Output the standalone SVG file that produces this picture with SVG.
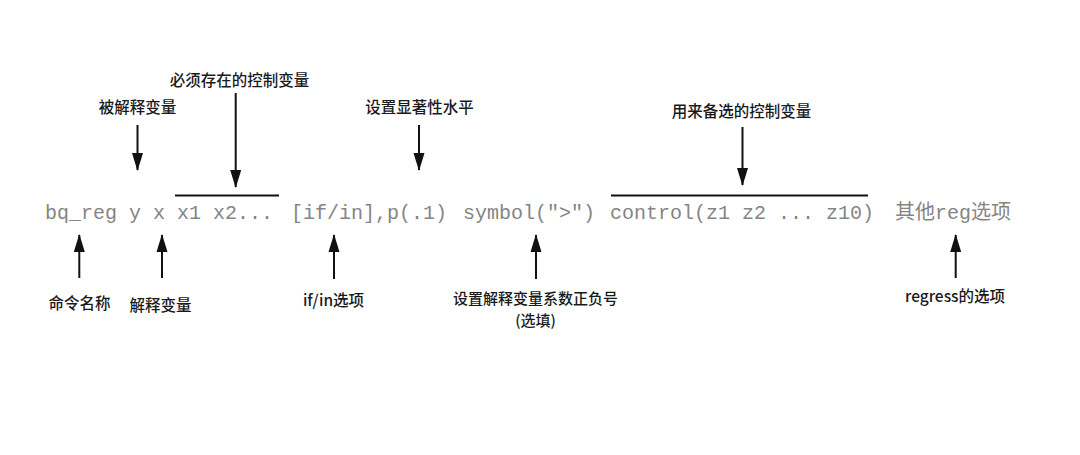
<svg xmlns="http://www.w3.org/2000/svg" width="1080" height="455" viewBox="0 0 1080 455">
  <style>
    .code { font-family: "Liberation Mono", "Noto Sans CJK SC", monospace; font-size: 20px; fill: #858585; }
    .lbl { font-family: "Noto Sans CJK SC", "Noto Sans", sans-serif; font-size: 15.5px; font-weight: 500; fill: #1a1a1a; text-anchor: middle; }
    .sm { font-size: 15px; }
    .arr { stroke: #111; stroke-width: 2; fill: none; }
    .bar { stroke: #111; stroke-width: 2; }
  </style>
  <defs>
    <marker id="head" markerUnits="userSpaceOnUse" markerWidth="18" markerHeight="12" viewBox="0 0 18 12" refX="17" refY="6" orient="auto">
      <path d="M0,0.5 L18,6 L0,11.5 Z" fill="#111"/>
    </marker>
  </defs>
  <rect width="1080" height="455" fill="#ffffff"/>

  <g id="command">
    <text class="code" x="45" y="219">bq_reg y x</text>
    <text class="code" x="177" y="219">x1 x2...</text>
    <text class="code" x="291" y="219">[if/in],p(.1)</text>
    <text class="code" x="463" y="219">symbol("&gt;")</text>
    <text class="code" x="610" y="219">control(z1 z2 ... z10)</text>
    <text class="code" x="895" y="219">其他reg选项</text>
  </g>

  <g id="overbars">
    <line class="bar" x1="175" y1="195.5" x2="279" y2="195.5"/>
    <line class="bar" x1="611" y1="195.5" x2="868" y2="195.5"/>
  </g>

  <g id="connectors">
    <line class="arr" x1="137.5" y1="125" x2="137.5" y2="170" marker-end="url(#head)"/>
    <line class="arr" x1="235.7" y1="93" x2="235.7" y2="187" marker-end="url(#head)"/>
    <line class="arr" x1="419" y1="125" x2="419" y2="170" marker-end="url(#head)"/>
    <line class="arr" x1="742.5" y1="127" x2="742.5" y2="185" marker-end="url(#head)"/>
    <line class="arr" x1="79.3" y1="278" x2="79.3" y2="235" marker-end="url(#head)"/>
    <line class="arr" x1="162" y1="278" x2="162" y2="235" marker-end="url(#head)"/>
    <line class="arr" x1="334" y1="279" x2="334" y2="235" marker-end="url(#head)"/>
    <line class="arr" x1="536" y1="279" x2="536" y2="235" marker-end="url(#head)"/>
    <line class="arr" x1="955.7" y1="278" x2="955.7" y2="235" marker-end="url(#head)"/>
  </g>

  <g id="label-dependent"><text class="lbl" x="137.5" y="112.5">被解释变量</text></g>
  <g id="label-required"><text class="lbl" x="239.5" y="86">必须存在的控制变量</text></g>
  <g id="label-significance"><text class="lbl" x="419.5" y="112.5">设置显著性水平</text></g>
  <g id="label-optional-controls"><text class="lbl" x="741.5" y="116.5">用来备选的控制变量</text></g>
  <g id="label-command"><text class="lbl" x="79.5" y="308.5">命令名称</text></g>
  <g id="label-explanatory"><text class="lbl" x="160.5" y="310.5">解释变量</text></g>
  <g id="label-ifin"><text class="lbl" x="333.5" y="305.5">if/in选项</text></g>
  <g id="label-symbol">
    <text class="lbl sm" x="535.5" y="303.5">设置解释变量系数正负号</text>
    <text class="lbl sm" x="535.5" y="325.5">(选填)</text>
  </g>
  <g id="label-regress"><text class="lbl" x="955" y="301.5">regress的选项</text></g>
</svg>
